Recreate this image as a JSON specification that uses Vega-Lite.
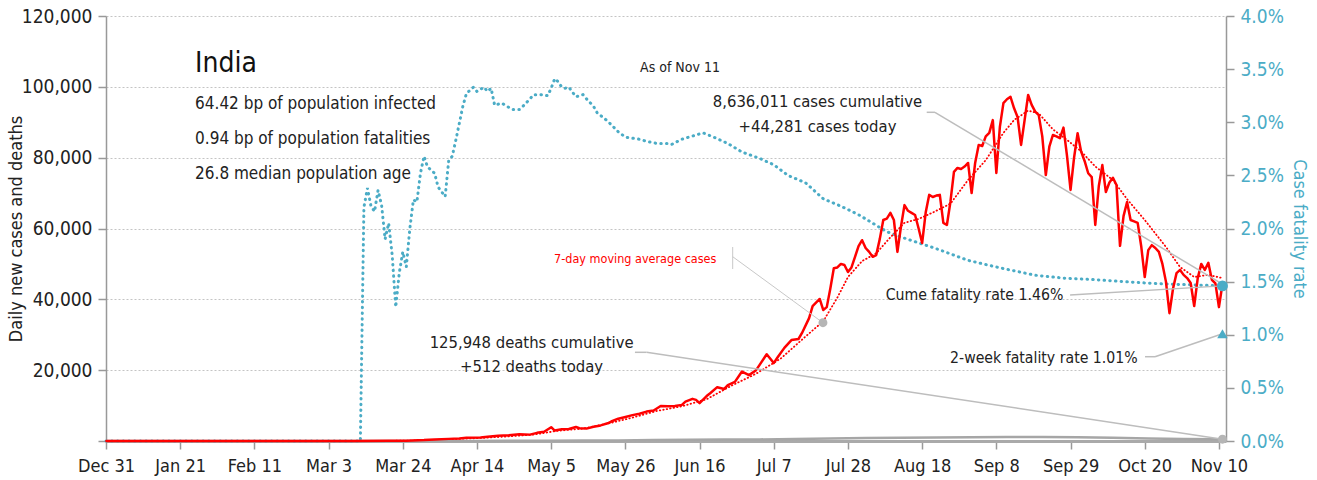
{
  "$schema": "https://vega.github.io/schema/vega-lite/v6.json",
  "width": 1120,
  "height": 425,
  "autosize": {"type": "none"},
  "padding": {"left": 106, "top": 16, "right": 91, "bottom": 39},
  "background": "white",
  "config": {
    "font": "Liberation Sans Narrow, DejaVu Sans Condensed, Roboto Condensed, Roboto, sans-serif",
    "view": {"stroke": null},
    "axisX": {
      "labelExpr": "utcFormat(datum.value, '%b %-d')",
      "title": null, "grid": false,
      "labelFontSize": 18, "labelColor": "#222", "labelPadding": 8, "labelFlush": false, "labelOverlap": false,
      "tickSize": 8, "tickColor": "#999", "tickWidth": 1.5,
      "domainColor": "#aaa", "domainWidth": 3
    }
  },
  "datasets": {
    "cases": [
      {"date":"2019-12-31","value":0},{"date":"2020-01-30","value":0},{"date":"2020-02-29","value":0},
      {"date":"2020-03-10","value":10},{"date":"2020-03-20","value":80},{"date":"2020-03-25","value":100},
      {"date":"2020-03-30","value":250},{"date":"2020-04-02","value":450},{"date":"2020-04-06","value":600},
      {"date":"2020-04-09","value":700},{"date":"2020-04-11","value":900},{"date":"2020-04-15","value":1000},
      {"date":"2020-04-17","value":1200},{"date":"2020-04-20","value":1500},{"date":"2020-04-23","value":1600},
      {"date":"2020-04-26","value":1900},{"date":"2020-04-29","value":1800},{"date":"2020-05-01","value":2300},
      {"date":"2020-05-03","value":2600},{"date":"2020-05-05","value":3900},{"date":"2020-05-06","value":2950},
      {"date":"2020-05-08","value":3300},{"date":"2020-05-10","value":3400},{"date":"2020-05-12","value":3950},
      {"date":"2020-05-13","value":3600},{"date":"2020-05-15","value":3500},{"date":"2020-05-17","value":4000},
      {"date":"2020-05-19","value":4400},{"date":"2020-05-21","value":5000},{"date":"2020-05-22","value":5500},
      {"date":"2020-05-24","value":6300},{"date":"2020-05-26","value":6800},{"date":"2020-05-28","value":7300},
      {"date":"2020-05-30","value":7700},{"date":"2020-06-01","value":8300},{"date":"2020-06-03","value":8600},
      {"date":"2020-06-05","value":9900},{"date":"2020-06-07","value":9800},{"date":"2020-06-09","value":9900},
      {"date":"2020-06-11","value":10200},{"date":"2020-06-12","value":11100},{"date":"2020-06-14","value":11900},
      {"date":"2020-06-15","value":11600},{"date":"2020-06-16","value":10700},{"date":"2020-06-18","value":12700},
      {"date":"2020-06-19","value":13500},{"date":"2020-06-21","value":15200},{"date":"2020-06-23","value":14700},
      {"date":"2020-06-24","value":15800},{"date":"2020-06-26","value":16700},{"date":"2020-06-28","value":19600},
      {"date":"2020-06-30","value":18600},{"date":"2020-07-02","value":20000},{"date":"2020-07-03","value":21500},
      {"date":"2020-07-05","value":24500},{"date":"2020-07-07","value":22000},{"date":"2020-07-08","value":23500},
      {"date":"2020-07-10","value":26300},{"date":"2020-07-12","value":28500},{"date":"2020-07-14","value":28800},
      {"date":"2020-07-15","value":30500},{"date":"2020-07-17","value":34700},{"date":"2020-07-18","value":38100},
      {"date":"2020-07-20","value":40100},{"date":"2020-07-21","value":37000},{"date":"2020-07-22","value":37800},
      {"date":"2020-07-23","value":43000},{"date":"2020-07-24","value":48800},{"date":"2020-07-25","value":49000},
      {"date":"2020-07-26","value":50000},{"date":"2020-07-27","value":49700},{"date":"2020-07-28","value":47700},
      {"date":"2020-07-29","value":49000},{"date":"2020-07-30","value":52000},{"date":"2020-07-31","value":55000},
      {"date":"2020-08-01","value":56700},{"date":"2020-08-02","value":54500},{"date":"2020-08-03","value":53400},
      {"date":"2020-08-04","value":52000},{"date":"2020-08-05","value":52500},{"date":"2020-08-06","value":57000},
      {"date":"2020-08-07","value":62400},{"date":"2020-08-08","value":62800},{"date":"2020-08-09","value":64400},
      {"date":"2020-08-10","value":62400},{"date":"2020-08-11","value":53400},{"date":"2020-08-12","value":60500},
      {"date":"2020-08-13","value":66600},{"date":"2020-08-14","value":65000},{"date":"2020-08-15","value":64400},
      {"date":"2020-08-16","value":63800},{"date":"2020-08-17","value":60000},{"date":"2020-08-18","value":55900},
      {"date":"2020-08-19","value":64500},{"date":"2020-08-20","value":69500},{"date":"2020-08-21","value":68900},
      {"date":"2020-08-22","value":69300},{"date":"2020-08-23","value":69500},{"date":"2020-08-24","value":61600},
      {"date":"2020-08-25","value":61000},{"date":"2020-08-26","value":67500},{"date":"2020-08-27","value":76000},
      {"date":"2020-08-28","value":77100},{"date":"2020-08-29","value":76800},{"date":"2020-08-30","value":77500},
      {"date":"2020-08-31","value":78500},{"date":"2020-09-01","value":70000},{"date":"2020-09-02","value":78500},
      {"date":"2020-09-03","value":83600},{"date":"2020-09-04","value":83300},{"date":"2020-09-05","value":86000},
      {"date":"2020-09-06","value":87000},{"date":"2020-09-07","value":90600},{"date":"2020-09-08","value":75700},
      {"date":"2020-09-09","value":88700},{"date":"2020-09-10","value":95400},{"date":"2020-09-11","value":96500},
      {"date":"2020-09-12","value":97200},{"date":"2020-09-13","value":94000},{"date":"2020-09-14","value":91500},
      {"date":"2020-09-15","value":83600},{"date":"2020-09-16","value":90600},{"date":"2020-09-17","value":97700},
      {"date":"2020-09-18","value":94900},{"date":"2020-09-19","value":93000},{"date":"2020-09-20","value":92000},
      {"date":"2020-09-21","value":86000},{"date":"2020-09-22","value":75100},{"date":"2020-09-23","value":83100},
      {"date":"2020-09-24","value":86400},{"date":"2020-09-25","value":86000},{"date":"2020-09-26","value":85500},
      {"date":"2020-09-27","value":88500},{"date":"2020-09-28","value":80500},{"date":"2020-09-29","value":70900},
      {"date":"2020-09-30","value":80000},{"date":"2020-10-01","value":86900},{"date":"2020-10-02","value":81700},
      {"date":"2020-10-03","value":79000},{"date":"2020-10-04","value":75600},{"date":"2020-10-05","value":74500},
      {"date":"2020-10-06","value":61000},{"date":"2020-10-07","value":72000},{"date":"2020-10-08","value":77900},
      {"date":"2020-10-09","value":70300},{"date":"2020-10-10","value":73000},{"date":"2020-10-11","value":74300},
      {"date":"2020-10-12","value":72300},{"date":"2020-10-13","value":55100},{"date":"2020-10-14","value":63500},
      {"date":"2020-10-15","value":67500},{"date":"2020-10-16","value":62400},{"date":"2020-10-17","value":62000},
      {"date":"2020-10-18","value":61600},{"date":"2020-10-19","value":55000},{"date":"2020-10-20","value":46300},
      {"date":"2020-10-21","value":53900},{"date":"2020-10-22","value":55300},{"date":"2020-10-23","value":54500},
      {"date":"2020-10-24","value":53400},{"date":"2020-10-25","value":50000},{"date":"2020-10-26","value":45000},
      {"date":"2020-10-27","value":36100},{"date":"2020-10-28","value":43000},{"date":"2020-10-29","value":47400},
      {"date":"2020-10-30","value":48300},{"date":"2020-10-31","value":46900},{"date":"2020-11-01","value":46000},
      {"date":"2020-11-02","value":44600},{"date":"2020-11-03","value":38100},{"date":"2020-11-04","value":46000},
      {"date":"2020-11-05","value":50000},{"date":"2020-11-06","value":48300},{"date":"2020-11-07","value":50300},
      {"date":"2020-11-08","value":45500},{"date":"2020-11-09","value":44500},{"date":"2020-11-10","value":37800},
      {"date":"2020-11-11","value":44281}
    ],
    "ma": [
      {"date":"2019-12-31","value":0},{"date":"2020-03-10","value":5},{"date":"2020-03-25","value":80},
      {"date":"2020-04-01","value":250},{"date":"2020-04-09","value":600},{"date":"2020-04-16","value":900},
      {"date":"2020-04-23","value":1300},{"date":"2020-04-30","value":1800},{"date":"2020-05-07","value":2900},
      {"date":"2020-05-14","value":3500},{"date":"2020-05-21","value":4900},{"date":"2020-05-28","value":6600},
      {"date":"2020-06-04","value":8500},{"date":"2020-06-11","value":9800},{"date":"2020-06-18","value":11800},
      {"date":"2020-06-25","value":15600},{"date":"2020-07-02","value":19000},{"date":"2020-07-09","value":23300},
      {"date":"2020-07-16","value":29500},{"date":"2020-07-21","value":33800},{"date":"2020-07-25","value":40500},
      {"date":"2020-07-28","value":46300},{"date":"2020-08-01","value":50800},{"date":"2020-08-05","value":53000},
      {"date":"2020-08-09","value":57500},{"date":"2020-08-13","value":61600},{"date":"2020-08-17","value":62700},
      {"date":"2020-08-21","value":64500},{"date":"2020-08-26","value":67000},{"date":"2020-08-31","value":73700},
      {"date":"2020-09-05","value":79300},{"date":"2020-09-10","value":87000},{"date":"2020-09-13","value":90600},
      {"date":"2020-09-17","value":93300},{"date":"2020-09-20","value":92500},{"date":"2020-09-24","value":88000},
      {"date":"2020-09-28","value":85000},{"date":"2020-10-02","value":81800},{"date":"2020-10-06","value":77500},
      {"date":"2020-10-11","value":73700},{"date":"2020-10-15","value":68300},{"date":"2020-10-20","value":62400},
      {"date":"2020-10-26","value":54800},{"date":"2020-10-30","value":49100},{"date":"2020-11-03","value":46300},
      {"date":"2020-11-07","value":46900},{"date":"2020-11-11","value":46000}
    ],
    "deaths": [
      {"date":"2019-12-31","value":0},{"date":"2020-03-12","value":0},{"date":"2020-03-25","value":5},
      {"date":"2020-04-04","value":15},{"date":"2020-04-14","value":35},{"date":"2020-04-24","value":45},
      {"date":"2020-05-04","value":80},{"date":"2020-05-14","value":110},{"date":"2020-05-24","value":150},
      {"date":"2020-06-03","value":260},{"date":"2020-06-13","value":350},{"date":"2020-06-23","value":400},
      {"date":"2020-07-03","value":450},{"date":"2020-07-13","value":550},{"date":"2020-07-23","value":700},
      {"date":"2020-08-02","value":850},{"date":"2020-08-12","value":900},{"date":"2020-08-22","value":1000},
      {"date":"2020-09-01","value":1050},{"date":"2020-09-11","value":1150},{"date":"2020-09-21","value":1100},
      {"date":"2020-10-01","value":1050},{"date":"2020-10-11","value":900},{"date":"2020-10-21","value":700},
      {"date":"2020-10-31","value":550},{"date":"2020-11-11","value":512}
    ],
    "cfr": [
      {"date":"2019-12-31","cfr":0},{"date":"2020-03-12","cfr":0},{"date":"2020-03-13","cfr":0.022},
      {"date":"2020-03-14","cfr":0.0238},{"date":"2020-03-15","cfr":0.0221},{"date":"2020-03-16","cfr":0.0216},
      {"date":"2020-03-17","cfr":0.0236},{"date":"2020-03-18","cfr":0.0222},{"date":"2020-03-19","cfr":0.019},
      {"date":"2020-03-20","cfr":0.0205},{"date":"2020-03-21","cfr":0.0175},{"date":"2020-03-22","cfr":0.0126},
      {"date":"2020-03-23","cfr":0.0158},{"date":"2020-03-24","cfr":0.0178},{"date":"2020-03-25","cfr":0.0164},
      {"date":"2020-03-26","cfr":0.02},{"date":"2020-03-27","cfr":0.0227},{"date":"2020-03-28","cfr":0.0225},
      {"date":"2020-03-29","cfr":0.0252},{"date":"2020-03-30","cfr":0.0268},{"date":"2020-03-31","cfr":0.0258},
      {"date":"2020-04-02","cfr":0.0252},{"date":"2020-04-03","cfr":0.0239},{"date":"2020-04-05","cfr":0.023},
      {"date":"2020-04-06","cfr":0.0264},{"date":"2020-04-07","cfr":0.0268},{"date":"2020-04-08","cfr":0.0283},
      {"date":"2020-04-09","cfr":0.0299},{"date":"2020-04-10","cfr":0.0315},{"date":"2020-04-11","cfr":0.0327},
      {"date":"2020-04-13","cfr":0.0333},{"date":"2020-04-14","cfr":0.0329},{"date":"2020-04-16","cfr":0.0333},
      {"date":"2020-04-17","cfr":0.0329},{"date":"2020-04-18","cfr":0.0332},{"date":"2020-04-19","cfr":0.0316},
      {"date":"2020-04-21","cfr":0.0318},{"date":"2020-04-24","cfr":0.0312},{"date":"2020-04-26","cfr":0.0312},
      {"date":"2020-04-27","cfr":0.0315},{"date":"2020-04-29","cfr":0.0322},{"date":"2020-04-30","cfr":0.0326},
      {"date":"2020-05-02","cfr":0.0326},{"date":"2020-05-04","cfr":0.0325},{"date":"2020-05-05","cfr":0.0332},
      {"date":"2020-05-06","cfr":0.0341},{"date":"2020-05-07","cfr":0.0338},{"date":"2020-05-08","cfr":0.0333},
      {"date":"2020-05-09","cfr":0.0332},{"date":"2020-05-10","cfr":0.0333},{"date":"2020-05-12","cfr":0.0324},
      {"date":"2020-05-14","cfr":0.0326},{"date":"2020-05-15","cfr":0.0322},{"date":"2020-05-17","cfr":0.0315},
      {"date":"2020-05-18","cfr":0.0309},{"date":"2020-05-21","cfr":0.0301},{"date":"2020-05-24","cfr":0.0291},
      {"date":"2020-05-26","cfr":0.0286},{"date":"2020-05-30","cfr":0.0284},{"date":"2020-06-01","cfr":0.0282},
      {"date":"2020-06-04","cfr":0.028},{"date":"2020-06-07","cfr":0.028},{"date":"2020-06-08","cfr":0.0279},
      {"date":"2020-06-11","cfr":0.0284},{"date":"2020-06-14","cfr":0.0287},{"date":"2020-06-17","cfr":0.029},
      {"date":"2020-06-20","cfr":0.0286},{"date":"2020-06-24","cfr":0.028},{"date":"2020-06-28","cfr":0.0272},
      {"date":"2020-07-03","cfr":0.0266},{"date":"2020-07-07","cfr":0.026},{"date":"2020-07-11","cfr":0.025},
      {"date":"2020-07-16","cfr":0.0243},{"date":"2020-07-21","cfr":0.0228},{"date":"2020-07-26","cfr":0.0221},
      {"date":"2020-07-31","cfr":0.0213},{"date":"2020-08-04","cfr":0.0205},{"date":"2020-08-08","cfr":0.0197},
      {"date":"2020-08-12","cfr":0.0192},{"date":"2020-08-22","cfr":0.0181},{"date":"2020-08-31","cfr":0.017},
      {"date":"2020-09-09","cfr":0.0163},{"date":"2020-09-19","cfr":0.0156},{"date":"2020-09-28","cfr":0.0153},
      {"date":"2020-10-05","cfr":0.0152},{"date":"2020-10-14","cfr":0.015},{"date":"2020-10-24","cfr":0.0148},
      {"date":"2020-11-02","cfr":0.0147},{"date":"2020-11-11","cfr":0.0146}
    ],
    "labels": [
      {"date":"2020-01-25T05:00:00Z","value":104270,"text":"India","group":"title"},
      {"date":"2020-01-25T05:00:00Z","value":93740,"text":"64.42 bp of population infected","group":"facts"},
      {"date":"2020-01-25T05:00:00Z","value":83860,"text":"0.94 bp of population fatalities","group":"facts"},
      {"date":"2020-01-25T05:00:00Z","value":73975,"text":"26.8 median population age","group":"facts"},
      {"date":"2020-06-10T11:00:00Z","value":104270,"text":"As of Nov 11","group":"asof"},
      {"date":"2020-07-19T09:00:00Z","value":94220,"text":"8,636,011 cases cumulative","group":"callout"},
      {"date":"2020-07-19T09:00:00Z","value":87330,"text":"+44,281 cases today","group":"callout"},
      {"date":"2020-04-29T11:00:00Z","value":26340,"text":"125,948 deaths cumulative","group":"callout"},
      {"date":"2020-04-29T11:00:00Z","value":19570,"text":"+512 deaths today","group":"callout"},
      {"date":"2020-05-28T19:00:00Z","value":50340,"text":"7-day moving average cases","group":"ma"},
      {"date":"2020-09-26T23:00:00Z","value":39810,"text":"Cume fatality rate 1.46%","group":"rate"},
      {"date":"2020-10-18T00:00:00Z","value":21940,"text":"2-week fatality rate 1.01%","group":"rate"}
    ],
    "leaders": [
      {"date":"2020-08-19T07:00:00Z","value":92810,"date2":"2020-08-21T15:00:00Z","value2":92810,"kind":"main"},
      {"date":"2020-08-21T15:00:00Z","value":92810,"date2":"2020-11-11T00:00:00Z","value2":44281,"kind":"main"},
      {"date":"2020-05-28T17:00:00Z","value":25040,"date2":"2020-06-01T00:00:00Z","value2":25040,"kind":"main"},
      {"date":"2020-06-01T00:00:00Z","value":25040,"date2":"2020-11-11T00:00:00Z","value2":512,"kind":"main"},
      {"date":"2020-09-28T21:00:00Z","value":41220,"date2":"2020-11-11T00:00:00Z","value2":43800,"kind":"main"},
      {"date":"2020-10-20T02:00:00Z","value":23800,"date2":"2020-10-22T22:00:00Z","value2":23800,"kind":"main"},
      {"date":"2020-10-22T22:00:00Z","value":23800,"date2":"2020-11-11T00:00:00Z","value2":30300,"kind":"main"},
      {"date":"2020-06-25T09:00:00Z","value":54780,"date2":"2020-06-25T09:00:00Z","value2":48560,"kind":"ma"},
      {"date":"2020-06-25T09:00:00Z","value":52040,"date2":"2020-07-20T22:00:00Z","value2":33400,"kind":"ma"}
    ],
    "grayPoints": [
      {"date":"2020-11-11T00:00:00Z","value":512},
      {"date":"2020-07-20T22:00:00Z","value":33400}
    ],
    "rates": [
      {"date":"2020-11-11T00:00:00Z","cfr":0.0146,"kind":"cume"},
      {"date":"2020-11-11T00:00:00Z","cfr":0.0101,"kind":"twoweek"}
    ]
  },
  "layer": [
    {
      "data": {"name": "cfr", "format": {"parse": {"date": "date"}}},
      "mark": {"type": "line", "color": "#4bacc6", "strokeWidth": 3, "strokeDash": [0.5, 5.2], "strokeCap": "round"},
      "encoding": {
        "x": {"field": "date", "type": "temporal", "scale": {"type": "utc", "domain": [1577750400000, 1605139200000]},
          "axis": {"values": {"signal": "[1577750400000, 1579564800000, 1581379200000, 1583193600000, 1585008000000, 1586822400000, 1588636800000, 1590451200000, 1592265600000, 1594080000000, 1595894400000, 1597708800000, 1599523200000, 1601337600000, 1603152000000, 1604966400000]"}}},
        "y": {"field": "cfr", "type": "quantitative",
          "scale": {"domain": [0, 0.04], "nice": false, "zero": true},
          "axis": {
            "orient": "right",
            "values": [0, 0.005, 0.01, 0.015, 0.02, 0.025, 0.03, 0.035, 0.04],
            "format": ".1%", "grid": false,
            "title": "Case fatality rate", "titleColor": "#4bacc6", "titleFontSize": 18, "titleFontWeight": "normal", "titlePadding": 6,
            "labelColor": "#4bacc6", "labelFontSize": 19, "labelPadding": 6,
            "tickSize": 8, "tickColor": "#999", "tickWidth": 1.5,
            "domainColor": "#999", "domainWidth": 1.5
          }
        }
      }
    },
    {
      "data": {"name": "ma", "format": {"parse": {"date": "date"}}},
      "mark": {"type": "line", "color": "#ff0000", "strokeWidth": 1.8, "strokeDash": [0.5, 3], "strokeCap": "round"},
      "encoding": {
        "x": {"field": "date", "type": "temporal", "scale": {"type": "utc", "domain": [1577750400000, 1605139200000]},
          "axis": {"values": {"signal": "[1577750400000, 1579564800000, 1581379200000, 1583193600000, 1585008000000, 1586822400000, 1588636800000, 1590451200000, 1592265600000, 1594080000000, 1595894400000, 1597708800000, 1599523200000, 1601337600000, 1603152000000, 1604966400000]"}}},
        "y": {"field": "value", "type": "quantitative", "scale": {"domain": [0, 120000], "nice": false, "zero": true}, "axis": null}
      }
    },
    {
      "data": {"name": "deaths", "format": {"parse": {"date": "date"}}},
      "mark": {"type": "line", "color": "#a6a6a6", "strokeWidth": 2.5},
      "encoding": {
        "x": {"field": "date", "type": "temporal", "scale": {"type": "utc", "domain": [1577750400000, 1605139200000]},
          "axis": {"values": {"signal": "[1577750400000, 1579564800000, 1581379200000, 1583193600000, 1585008000000, 1586822400000, 1588636800000, 1590451200000, 1592265600000, 1594080000000, 1595894400000, 1597708800000, 1599523200000, 1601337600000, 1603152000000, 1604966400000]"}}},
        "y": {"field": "value", "type": "quantitative", "scale": {"domain": [0, 120000], "nice": false, "zero": true}, "axis": null}
      }
    },
    {
      "data": {"name": "cases", "format": {"parse": {"date": "date"}}},
      "mark": {"type": "line", "color": "#ff0000", "strokeWidth": 2.5, "strokeJoin": "round"},
      "encoding": {
        "x": {"field": "date", "type": "temporal", "scale": {"type": "utc", "domain": [1577750400000, 1605139200000]},
          "axis": {"values": {"signal": "[1577750400000, 1579564800000, 1581379200000, 1583193600000, 1585008000000, 1586822400000, 1588636800000, 1590451200000, 1592265600000, 1594080000000, 1595894400000, 1597708800000, 1599523200000, 1601337600000, 1603152000000, 1604966400000]"}}},
        "y": {"field": "value", "type": "quantitative",
          "scale": {"domain": [0, 120000], "nice": false, "zero": true},
          "axis": {
            "orient": "left",
            "values": [0, 20000, 40000, 60000, 80000, 100000, 120000],
            "labelExpr": "datum.value == 0 ? '' : format(datum.value, ',')",
            "title": "Daily new cases and deaths", "titleColor": "#222", "titleFontSize": 18, "titleFontWeight": "normal", "titlePadding": -4,
            "labelColor": "#222", "labelFontSize": 19, "labelPadding": 6,
            "tickSize": 8, "tickColor": "#999", "tickWidth": 1.5,
            "domainColor": "#999", "domainWidth": 1.5,
            "grid": true, "gridColor": "#c4c4c4", "gridDash": [2, 2], "gridWidth": 1
          }
        }
      }
    },
    {
      "data": {"name": "leaders", "format": {"parse": {"date": "date", "date2": "date"}}},
      "transform": [{"filter": "datum.kind == 'main'"}],
      "mark": {"type": "rule", "color": "#bdbdbd", "strokeWidth": 1.5},
      "encoding": {
        "x": {"field": "date", "type": "temporal", "scale": {"type": "utc", "domain": [1577750400000, 1605139200000]},
          "axis": {"values": {"signal": "[1577750400000, 1579564800000, 1581379200000, 1583193600000, 1585008000000, 1586822400000, 1588636800000, 1590451200000, 1592265600000, 1594080000000, 1595894400000, 1597708800000, 1599523200000, 1601337600000, 1603152000000, 1604966400000]"}}},
        "x2": {"field": "date2"},
        "y": {"field": "value", "type": "quantitative", "scale": {"domain": [0, 120000], "nice": false, "zero": true}, "axis": null},
        "y2": {"field": "value2"}
      }
    },
    {
      "data": {"name": "leaders", "format": {"parse": {"date": "date", "date2": "date"}}},
      "transform": [{"filter": "datum.kind == 'ma'"}],
      "mark": {"type": "rule", "color": "#c8c8c8", "strokeWidth": 1},
      "encoding": {
        "x": {"field": "date", "type": "temporal", "scale": {"type": "utc", "domain": [1577750400000, 1605139200000]},
          "axis": {"values": {"signal": "[1577750400000, 1579564800000, 1581379200000, 1583193600000, 1585008000000, 1586822400000, 1588636800000, 1590451200000, 1592265600000, 1594080000000, 1595894400000, 1597708800000, 1599523200000, 1601337600000, 1603152000000, 1604966400000]"}}},
        "x2": {"field": "date2"},
        "y": {"field": "value", "type": "quantitative", "scale": {"domain": [0, 120000], "nice": false, "zero": true}, "axis": null},
        "y2": {"field": "value2"}
      }
    },
    {
      "data": {"name": "grayPoints", "format": {"parse": {"date": "date"}}},
      "mark": {"type": "circle", "color": "#b5b5b5", "size": 80, "opacity": 1},
      "encoding": {
        "x": {"field": "date", "type": "temporal", "scale": {"type": "utc", "domain": [1577750400000, 1605139200000]},
          "axis": {"values": {"signal": "[1577750400000, 1579564800000, 1581379200000, 1583193600000, 1585008000000, 1586822400000, 1588636800000, 1590451200000, 1592265600000, 1594080000000, 1595894400000, 1597708800000, 1599523200000, 1601337600000, 1603152000000, 1604966400000]"}}},
        "y": {"field": "value", "type": "quantitative", "scale": {"domain": [0, 120000], "nice": false, "zero": true}, "axis": null}
      }
    },
    {
      "data": {"name": "rates", "format": {"parse": {"date": "date"}}},
      "transform": [{"filter": "datum.kind == 'cume'"}],
      "mark": {"type": "circle", "color": "#4bacc6", "size": 120, "opacity": 1},
      "encoding": {
        "x": {"field": "date", "type": "temporal", "scale": {"type": "utc", "domain": [1577750400000, 1605139200000]},
          "axis": {"values": {"signal": "[1577750400000, 1579564800000, 1581379200000, 1583193600000, 1585008000000, 1586822400000, 1588636800000, 1590451200000, 1592265600000, 1594080000000, 1595894400000, 1597708800000, 1599523200000, 1601337600000, 1603152000000, 1604966400000]"}}},
        "y": {"field": "cfr", "type": "quantitative", "scale": {"domain": [0, 0.04], "nice": false, "zero": true}, "axis": null}
      }
    },
    {
      "data": {"name": "rates", "format": {"parse": {"date": "date"}}},
      "transform": [{"filter": "datum.kind == 'twoweek'"}],
      "mark": {"type": "point", "shape": "triangle-up", "filled": true, "color": "#4bacc6", "size": 110, "opacity": 1},
      "encoding": {
        "x": {"field": "date", "type": "temporal", "scale": {"type": "utc", "domain": [1577750400000, 1605139200000]},
          "axis": {"values": {"signal": "[1577750400000, 1579564800000, 1581379200000, 1583193600000, 1585008000000, 1586822400000, 1588636800000, 1590451200000, 1592265600000, 1594080000000, 1595894400000, 1597708800000, 1599523200000, 1601337600000, 1603152000000, 1604966400000]"}}},
        "y": {"field": "cfr", "type": "quantitative", "scale": {"domain": [0, 0.04], "nice": false, "zero": true}, "axis": null}
      }
    },
    {
      "data": {"name": "labels", "format": {"parse": {"date": "date"}}},
      "transform": [{"filter": "datum.group == 'title'"}],
      "mark": {"type": "text", "align": "left", "baseline": "alphabetic", "fontSize": 28, "color": "#111"},
      "encoding": {
        "x": {"field": "date", "type": "temporal", "scale": {"type": "utc", "domain": [1577750400000, 1605139200000]},
          "axis": {"values": {"signal": "[1577750400000, 1579564800000, 1581379200000, 1583193600000, 1585008000000, 1586822400000, 1588636800000, 1590451200000, 1592265600000, 1594080000000, 1595894400000, 1597708800000, 1599523200000, 1601337600000, 1603152000000, 1604966400000]"}}},
        "y": {"field": "value", "type": "quantitative", "scale": {"domain": [0, 120000], "nice": false, "zero": true}, "axis": null},
        "text": {"field": "text"}
      }
    },
    {
      "data": {"name": "labels", "format": {"parse": {"date": "date"}}},
      "transform": [{"filter": "datum.group == 'facts'"}],
      "mark": {"type": "text", "align": "left", "baseline": "alphabetic", "fontSize": 17, "color": "#222"},
      "encoding": {
        "x": {"field": "date", "type": "temporal", "scale": {"type": "utc", "domain": [1577750400000, 1605139200000]},
          "axis": {"values": {"signal": "[1577750400000, 1579564800000, 1581379200000, 1583193600000, 1585008000000, 1586822400000, 1588636800000, 1590451200000, 1592265600000, 1594080000000, 1595894400000, 1597708800000, 1599523200000, 1601337600000, 1603152000000, 1604966400000]"}}},
        "y": {"field": "value", "type": "quantitative", "scale": {"domain": [0, 120000], "nice": false, "zero": true}, "axis": null},
        "text": {"field": "text"}
      }
    },
    {
      "data": {"name": "labels", "format": {"parse": {"date": "date"}}},
      "transform": [{"filter": "datum.group == 'asof'"}],
      "mark": {"type": "text", "align": "center", "baseline": "alphabetic", "fontSize": 14, "color": "#222"},
      "encoding": {
        "x": {"field": "date", "type": "temporal", "scale": {"type": "utc", "domain": [1577750400000, 1605139200000]},
          "axis": {"values": {"signal": "[1577750400000, 1579564800000, 1581379200000, 1583193600000, 1585008000000, 1586822400000, 1588636800000, 1590451200000, 1592265600000, 1594080000000, 1595894400000, 1597708800000, 1599523200000, 1601337600000, 1603152000000, 1604966400000]"}}},
        "y": {"field": "value", "type": "quantitative", "scale": {"domain": [0, 120000], "nice": false, "zero": true}, "axis": null},
        "text": {"field": "text"}
      }
    },
    {
      "data": {"name": "labels", "format": {"parse": {"date": "date"}}},
      "transform": [{"filter": "datum.group == 'callout'"}],
      "mark": {"type": "text", "align": "center", "baseline": "alphabetic", "fontSize": 16.5, "color": "#222"},
      "encoding": {
        "x": {"field": "date", "type": "temporal", "scale": {"type": "utc", "domain": [1577750400000, 1605139200000]},
          "axis": {"values": {"signal": "[1577750400000, 1579564800000, 1581379200000, 1583193600000, 1585008000000, 1586822400000, 1588636800000, 1590451200000, 1592265600000, 1594080000000, 1595894400000, 1597708800000, 1599523200000, 1601337600000, 1603152000000, 1604966400000]"}}},
        "y": {"field": "value", "type": "quantitative", "scale": {"domain": [0, 120000], "nice": false, "zero": true}, "axis": null},
        "text": {"field": "text"}
      }
    },
    {
      "data": {"name": "labels", "format": {"parse": {"date": "date"}}},
      "transform": [{"filter": "datum.group == 'ma'"}],
      "mark": {"type": "text", "align": "center", "baseline": "alphabetic", "fontSize": 12.5, "color": "#ff0000"},
      "encoding": {
        "x": {"field": "date", "type": "temporal", "scale": {"type": "utc", "domain": [1577750400000, 1605139200000]},
          "axis": {"values": {"signal": "[1577750400000, 1579564800000, 1581379200000, 1583193600000, 1585008000000, 1586822400000, 1588636800000, 1590451200000, 1592265600000, 1594080000000, 1595894400000, 1597708800000, 1599523200000, 1601337600000, 1603152000000, 1604966400000]"}}},
        "y": {"field": "value", "type": "quantitative", "scale": {"domain": [0, 120000], "nice": false, "zero": true}, "axis": null},
        "text": {"field": "text"}
      }
    },
    {
      "data": {"name": "labels", "format": {"parse": {"date": "date"}}},
      "transform": [{"filter": "datum.group == 'rate'"}],
      "mark": {"type": "text", "align": "right", "baseline": "alphabetic", "fontSize": 15.7, "color": "#222"},
      "encoding": {
        "x": {"field": "date", "type": "temporal", "scale": {"type": "utc", "domain": [1577750400000, 1605139200000]},
          "axis": {"values": {"signal": "[1577750400000, 1579564800000, 1581379200000, 1583193600000, 1585008000000, 1586822400000, 1588636800000, 1590451200000, 1592265600000, 1594080000000, 1595894400000, 1597708800000, 1599523200000, 1601337600000, 1603152000000, 1604966400000]"}}},
        "y": {"field": "value", "type": "quantitative", "scale": {"domain": [0, 120000], "nice": false, "zero": true}, "axis": null},
        "text": {"field": "text"}
      }
    }
  ],
  "resolve": {"scale": {"y": "independent"}, "axis": {"y": "independent"}}
}
